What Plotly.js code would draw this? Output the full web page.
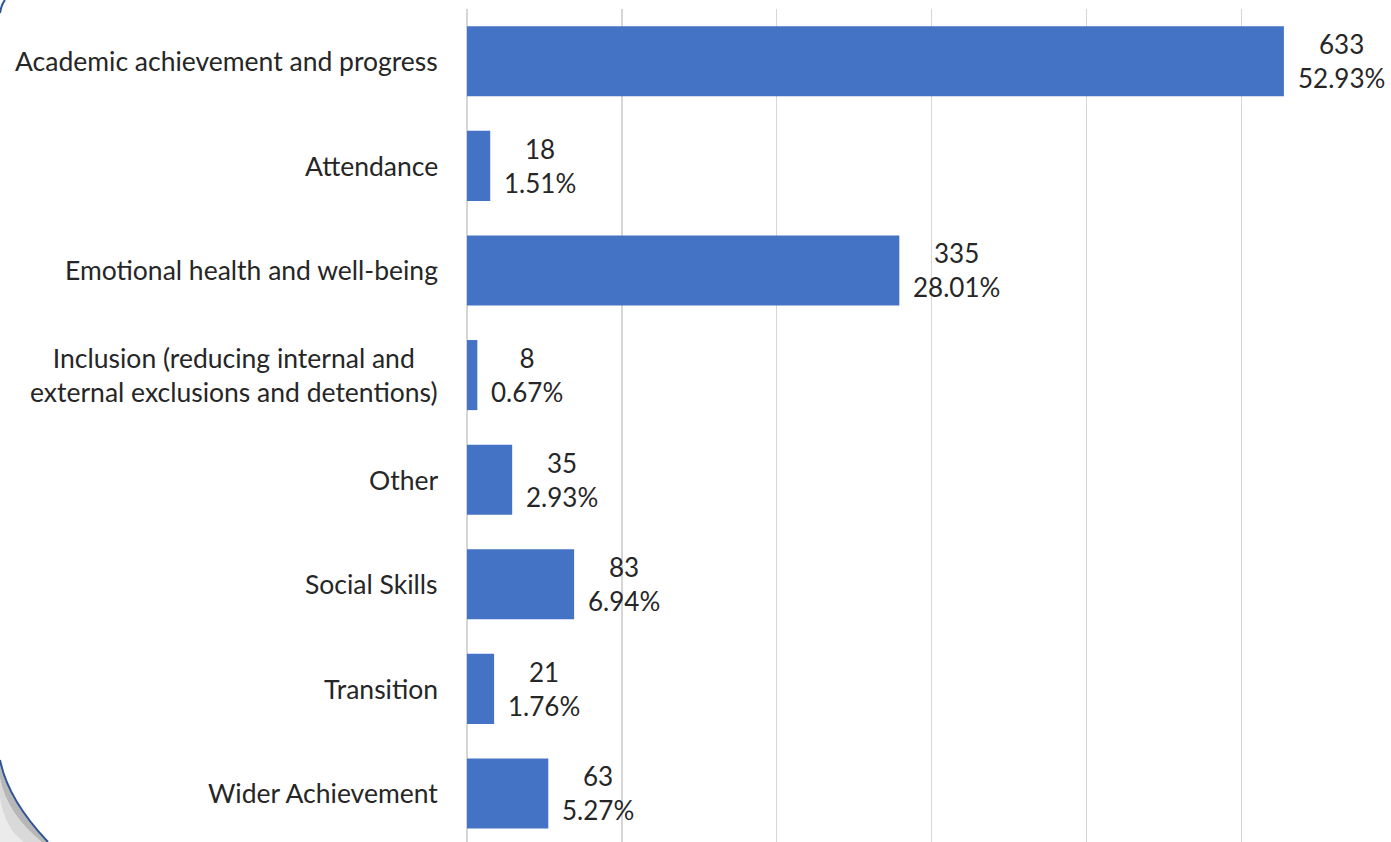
<!DOCTYPE html>
<html>
<head>
<meta charset="utf-8">
<script src="https://cdn.plot.ly/plotly-3.0.1.min.js"></script>
<style>
html,body{margin:0;padding:0;background:#fff;}
#chart{width:1391px;height:842px;}
</style>
</head>
<body>
<div id="chart"></div>
<script>
const categories = [
  "Academic achievement and progress",
  "Attendance",
  "Emotional health and well-being",
  "Inclusion (reducing internal and<br>external exclusions and detentions)",
  "Other",
  "Social Skills",
  "Transition",
  "Wider Achievement"
];
const counts = [633, 18, 335, 8, 35, 83, 21, 63];
const percents = ["52.93%", "1.51%", "28.01%", "0.67%", "2.93%", "6.94%", "1.76%", "5.27%"];

const W = 1391, H = 842;
const M = {l: 467, r: 0, t: 9, b: 0};
const PW = W - M.l - M.r, PH = H - M.t - M.b;
function px(x){ return ((x - M.l) / PW).toFixed(5); }
function py(y){ return ((H - M.b - y) / PH).toFixed(5); }

const FONT = "Lato, 'Open Sans', sans-serif";
const TXT = "#262626";

const trace = {
  type: "bar",
  orientation: "h",
  y: categories,
  x: counts,
  marker: {color: "#4472C4"},
  hoverinfo: "x+y"
};

const annotations = [];
categories.forEach((c, i) => {
  annotations.push({
    xref: "paper", yref: "y", x: 0, y: c, xshift: -27,
    xanchor: "right", yanchor: "middle", align: "center",
    text: c, showarrow: false,
    font: {family: FONT, size: 26.5, color: TXT}
  });
  annotations.push({
    xref: "x", yref: "y", x: counts[i], y: c, xshift: 12,
    xanchor: "left", yanchor: "middle", align: "center",
    text: counts[i] + "<br>" + percents[i], showarrow: false,
    font: {family: FONT, size: 26, color: TXT}
  });
});

const curve = `M ${px(0)},${py(760)} Q ${px(8)},${py(800)} ${px(48)},${py(842)}`;
const shadowDark = `M ${px(0)},${py(778)} Q ${px(7)},${py(814)} ${px(42)},${py(842)} L ${px(48)},${py(842)} Q ${px(8)},${py(800)} ${px(0)},${py(760)} Z`;
const shadowLight = `M ${px(0)},${py(798)} Q ${px(5)},${py(829)} ${px(24)},${py(842)} L ${px(42)},${py(842)} Q ${px(7)},${py(814)} ${px(0)},${py(778)} Z`;
const shadowCorner = `M ${px(0)},${py(798)} Q ${px(5)},${py(829)} ${px(24)},${py(842)} L ${px(0)},${py(842)} Z`;
const topArc = `M ${px(0)},${py(13)} Q ${px(1.5)},${py(4)} ${px(5)},${py(0)}`;

const layout = {
  width: W, height: H,
  margin: M,
  paper_bgcolor: "#ffffff",
  plot_bgcolor: "#ffffff",
  showlegend: false,
  bargap: 0.33,
  font: {family: FONT, color: TXT},
  xaxis: {
    range: [0, 716],
    dtick: 120, tick0: 0,
    showgrid: true, gridcolor: "#d6d6d6", gridwidth: 1.5,
    zeroline: true, zerolinecolor: "#d6d6d6", zerolinewidth: 1.5,
    showticklabels: false, ticks: "", showline: false,
    fixedrange: true
  },
  yaxis: {
    type: "category",
    range: [7.464, -0.5],
    showticklabels: false, ticks: "", showgrid: false, zeroline: false, showline: false,
    fixedrange: true
  },
  annotations: annotations,
  shapes: [
    {type: "path", xref: "paper", yref: "paper", path: shadowCorner, fillcolor: "rgba(215,215,215,0.5)", line: {width: 0}, layer: "above"},
    {type: "path", xref: "paper", yref: "paper", path: shadowLight, fillcolor: "rgba(185,185,185,0.55)", line: {width: 0}, layer: "above"},
    {type: "path", xref: "paper", yref: "paper", path: shadowDark, fillcolor: "rgba(145,145,145,0.65)", line: {width: 0}, layer: "above"},
    {type: "path", xref: "paper", yref: "paper", path: curve, line: {color: "#2F5597", width: 2}, layer: "above"},
    {type: "path", xref: "paper", yref: "paper", path: topArc, line: {color: "#2F5597", width: 2}, layer: "above"}
  ]
};

Plotly.newPlot("chart", [trace], layout, {displayModeBar: false, staticPlot: true});
</script>
</body>
</html>
